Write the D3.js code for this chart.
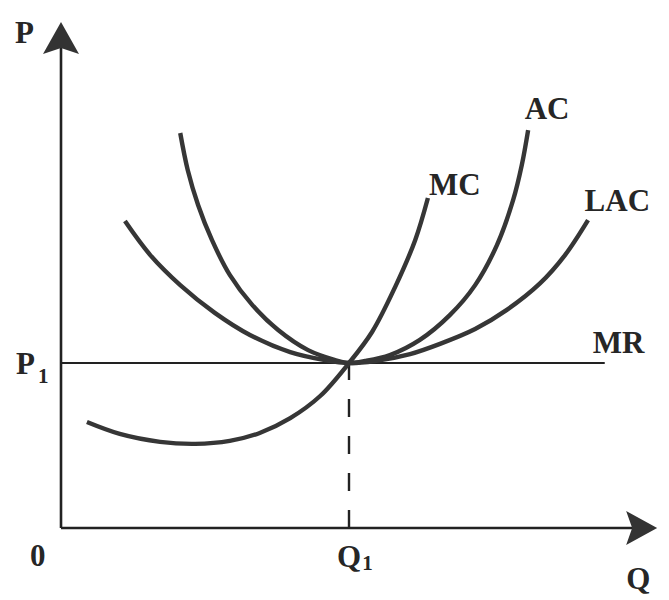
<!DOCTYPE html>
<html>
<head>
<meta charset="utf-8">
<script src="https://cdn.jsdelivr.net/npm/d3@7"></script>
<style>
  html, body { margin: 0; padding: 0; background: #fff; }
  svg { display: block; }
  text { font-family: "Liberation Serif", "Times New Roman", serif; font-weight: bold; fill: #262626; }
</style>
</head>
<body>
<svg id="chart" width="669" height="600"></svg>
<script>
// ---- Data (quantity Q, price P in arbitrary units; Q1 = 50, P1 = 50) ----
const mcQ  = [4.5, 10.2, 17.2, 23.3, 29.3, 34.5, 39.8, 45.0, 50, 54.0, 58.0, 61.5, 63.7];
const mcP  = [32.1, 28.5, 26.1, 25.5, 26.4, 28.8, 33.3, 40.0, 50, 59.4, 73.0, 87.3, 100];

const acQ  = [20.7, 22.0, 23.8, 26.2, 29.3, 33.2, 37.7, 42.9, 47.6, 50, 52.8, 57.1, 62.3, 67.5, 71.9, 75.7, 78.5, 80.0, 81.1];
const acP  = [119.7, 108.5, 97.9, 87.3, 76.7, 67.6, 60, 53.9, 50.9, 50, 50.6, 52.4, 57, 64.5, 73.6, 85.8, 99.4, 110, 120.6];

const lacQ = [11.1, 15.5, 20.7, 26.7, 32.8, 39.8, 45.8, 50, 54.5, 60.6, 65.8, 71.9, 77.4, 83.2, 87.5, 91.5];
const lacP = [93, 82.7, 73.6, 65.2, 58.5, 53.3, 50.9, 50, 50.6, 52.7, 55.8, 60.3, 66.1, 74.2, 82.7, 93.3];

const mrP = 50;          // marginal revenue (price level P1)
const mrQmax = 94.4;     // end of MR line
const q1 = 50;           // equilibrium quantity
const p1 = 50;           // equilibrium price
const axisQmax = 103.5;  // x-axis arrow tip
const axisPmax = 153.3;  // y-axis arrow tip

const curveNames  = ["MC", "AC", "LAC"];
const curveLabelPos = [[63.9, 101], [80.5, 123.9], [90.9, 96]]; // label anchors in data units

// ---- Scales ----
const x = d3.scaleLinear().domain([0, 100]).range([61, 637]);
const y = d3.scaleLinear().domain([0, 100]).range([528, 198]);

const svg = d3.select("#chart");
const ink = "#363636";

// ---- Axes ----
const axisG = svg.append("g");
axisG.append("line")
  .attr("x1", x(0)).attr("y1", y(0))
  .attr("x2", x(0)).attr("y2", y(axisPmax) + 20)
  .attr("stroke", "#222").attr("stroke-width", 2.6);
axisG.append("line")
  .attr("x1", x(0)).attr("y1", y(0))
  .attr("x2", x(axisQmax) - 20).attr("y2", y(0))
  .attr("stroke", "#222").attr("stroke-width", 2.6);

// arrow heads
const ty = y(axisPmax), tx = x(0);
axisG.append("path")
  .attr("d", `M${tx},${ty} L${tx + 18},${ty + 32} L${tx},${ty + 26} L${tx - 18},${ty + 32} Z`)
  .attr("fill", "#333");
const rx = x(axisQmax), ry = y(0);
axisG.append("path")
  .attr("d", `M${rx},${ry} L${rx - 31},${ry + 17} L${rx - 25},${ry} L${rx - 31},${ry - 17} Z`)
  .attr("fill", "#333");

// ---- MR line ----
svg.append("line")
  .attr("x1", x(0)).attr("y1", y(mrP))
  .attr("x2", x(mrQmax)).attr("y2", y(mrP))
  .attr("stroke", "#222").attr("stroke-width", 2);

// ---- dashed Q1 line ----
svg.append("line")
  .attr("x1", x(q1)).attr("y1", y(0))
  .attr("x2", x(q1)).attr("y2", y(p1))
  .attr("stroke", "#222").attr("stroke-width", 2.4)
  .attr("stroke-dasharray", "18,19");

// ---- Cost curves ----
const line = d3.line()
  .x(d => x(d[0])).y(d => y(d[1]))
  .curve(d3.curveCatmullRom.alpha(0.5));

const series = [
  d3.zip(mcQ, mcP),
  d3.zip(acQ, acP),
  d3.zip(lacQ, lacP)
];
svg.append("g").selectAll("path")
  .data(series)
  .join("path")
  .attr("d", line)
  .attr("fill", "none")
  .attr("stroke", ink)
  .attr("stroke-width", 4.4)
  .attr("stroke-linecap", "butt");

// ---- Labels ----
const fs = 31;
svg.append("g").selectAll("text")
  .data(curveNames)
  .join("text")
  .attr("x", (d, i) => x(curveLabelPos[i][0]))
  .attr("y", (d, i) => y(curveLabelPos[i][1]))
  .attr("font-size", fs)
  .text(d => d);

svg.append("text").attr("x", x(mrQmax) - 12).attr("y", y(mrP) - 10)
  .attr("font-size", fs).text("MR");

svg.append("text").attr("x", 15).attr("y", y(axisPmax) + 21)
  .attr("font-size", fs).text("P");

svg.append("text").attr("x", x(axisQmax) - 31).attr("y", y(0) + 61)
  .attr("font-size", fs).text("Q");

svg.append("text").attr("x", 30).attr("y", y(0) + 38)
  .attr("font-size", fs).text("0");

const p1Label = svg.append("text").attr("x", 16).attr("y", y(p1) + 11).attr("font-size", fs);
p1Label.append("tspan").text("P");
p1Label.append("tspan").attr("font-size", 21).attr("dx", 3).attr("dy", 9).text("1");

const q1Label = svg.append("text").attr("x", x(q1) - 12).attr("y", y(0) + 39).attr("font-size", fs);
q1Label.append("tspan").text("Q");
q1Label.append("tspan").attr("font-size", 21).attr("dx", 1).attr("dy", 3).text("1");
</script>
</body>
</html>
